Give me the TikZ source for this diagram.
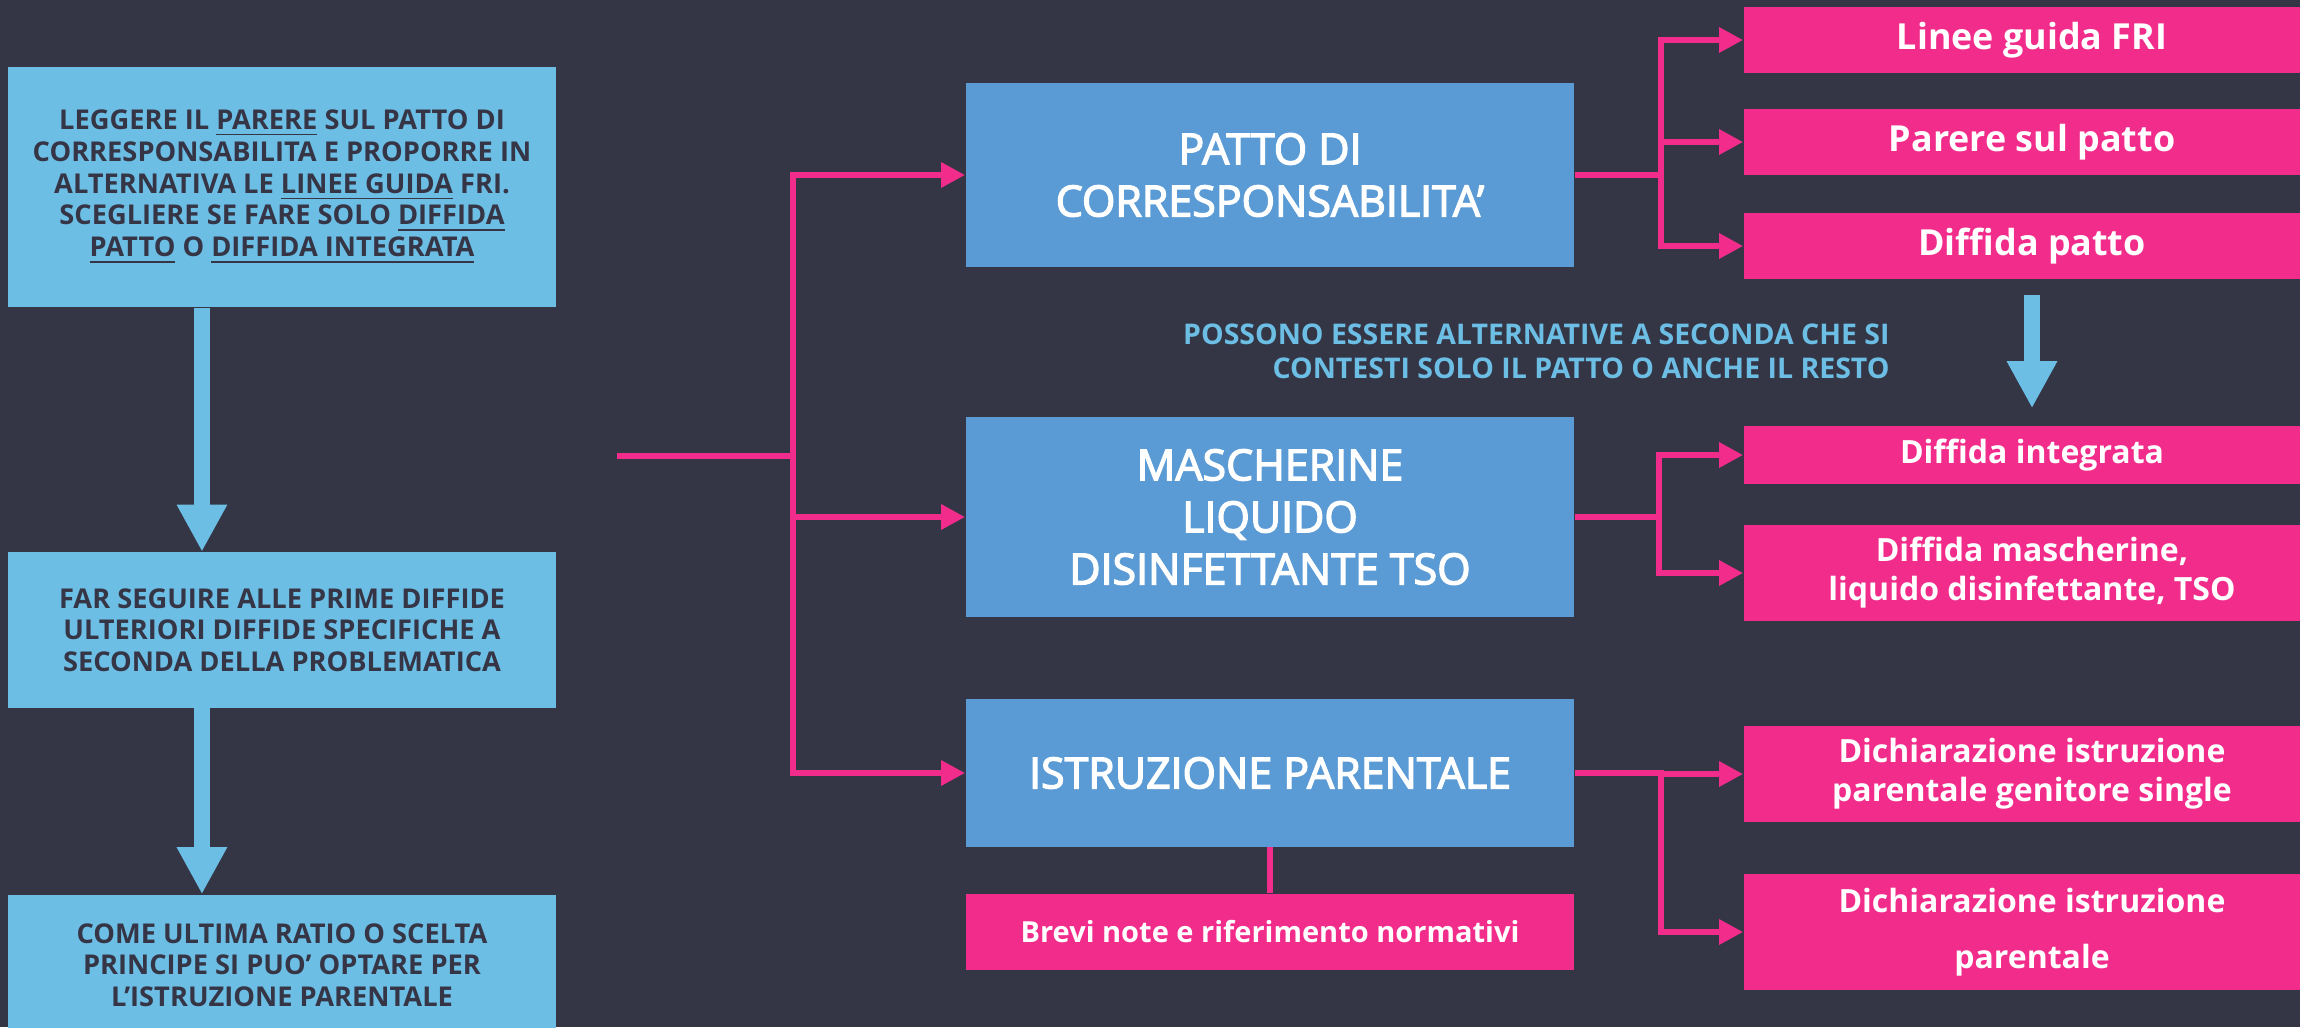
\documentclass[tikz,border=0pt]{standalone}
\usepackage{fontspec}
\setmainfont{Open Sans}
\usepackage{tikz}
\usetikzlibrary{arrows.meta, positioning, calc}
\definecolor{sfondo}{HTML}{343646}
\definecolor{celeste}{HTML}{6CBEE5}
\definecolor{azzurro}{HTML}{5B9BD5}
\definecolor{fucsia}{HTML}{F22C8A}
\definecolor{scuro}{HTML}{353546}
\newcommand{\fpx}[2]{\fontsize{#1pt}{#2pt}\selectfont}

\begin{document}
\begin{tikzpicture}[x=0.01cm,y=-0.01cm,
    leftbox/.style={rectangle,fill=celeste,text=scuro,minimum width=5.48cm,inner sep=0pt,align=center,font=\fpx{7.75}{9.02}\bfseries},
    midbox/.style={rectangle,fill=azzurro,text=white,minimum width=6.08cm,inner sep=0pt,align=center,font=\fpx{12.2}{14.8}\addfontfeature{FakeBold=3}},
    pinkbox/.style={rectangle,fill=fucsia,text=white,minimum width=5.76cm,inner sep=0pt,align=center,font=\fpx{10.2}{12.4}\bfseries},
    pinkline/.style={draw=fucsia,line width=1.7pt},
    pinkarrow/.style={pinkline,-{Triangle[length=6.8pt,width=6.8pt]}},
    bluearrow/.style={draw=celeste,line width=4.55pt,-{Triangle[length=13.4pt,width=13.4pt]}}]
    \useasboundingbox (0,0) rectangle (2300,1027);
    \fill[sfondo] (0,0) rectangle (2300,1027);

    % Colonna sinistra
    \node[leftbox,minimum height=2.4cm] (leggere) at (282,187) {LEGGERE IL \underline{PARERE} SUL PATTO DI\\CORRESPONSABILITA E PROPORRE IN\\ALTERNATIVA LE \underline{LINEE GUIDA} FRI.\\SCEGLIERE SE FARE SOLO \underline{DIFFIDA}\\\underline{PATTO} O \underline{DIFFIDA INTEGRATA}};
    \node[leftbox,minimum height=1.55cm] (seguire) at (282,630) {FAR SEGUIRE ALLE PRIME DIFFIDE\\ULTERIORI DIFFIDE SPECIFICHE A\\SECONDA DELLA PROBLEMATICA};
    \node[leftbox,minimum height=1.4cm] (ultima) at (282,965) {COME ULTIMA RATIO O SCELTA\\PRINCIPE SI PUO’ OPTARE PER\\L’ISTRUZIONE PARENTALE};

    \draw[bluearrow] ([xshift=-0.8cm]leggere.south) -- ([xshift=-0.8cm]seguire.north);
    \draw[bluearrow] ([xshift=-0.8cm]seguire.south) -- ([xshift=-0.8cm]ultima.north);

    % Colonna centrale
    \node[midbox,minimum height=1.84cm] (patto) at (1270,175) {PATTO DI\\CORRESPONSABILITA’};
    \node[midbox,minimum height=1.99cm] (masch) at (1270,517) {MASCHERINE\\LIQUIDO\\DISINFETTANTE TSO};
    \node[midbox,minimum height=1.47cm] (istr) at (1270,773) {ISTRUZIONE PARENTALE};
    \node[pinkbox,minimum width=6.08cm,minimum height=0.76cm,font=\fpx{8.25}{10}\bfseries] (brevi) at (1270,932) {Brevi note e riferimento normativi};
    \draw[pinkline] (istr.south) -- (brevi.north);

    \coordinate (avvio) at (617,456);
    \foreach \dest in {patto,masch,istr}
        \draw[pinkarrow] (avvio) -- ++(176,0) |- (\dest.west);

    \node[anchor=east,align=right,text=celeste,font=\fpx{8.1}{9.7}\bfseries] (nota) at (1902,351) {POSSONO ESSERE ALTERNATIVE A SECONDA CHE SI\\CONTESTI SOLO IL PATTO O ANCHE IL RESTO};

    % Colonna destra
    \node[pinkbox,minimum height=0.65cm] (fri) at (2032,40) {Linee guida FRI};
    \node[pinkbox,minimum height=0.65cm] (parere) at (2032,142) {Parere sul patto};
    \node[pinkbox,minimum height=0.65cm] (dpatto) at (2032,246) {Diffida patto};
    \node[pinkbox,minimum height=0.58cm,font=\fpx{9.1}{11.1}\bfseries] (dinteg) at (2032,455) {Diffida integrata};
    \node[pinkbox,minimum height=0.96cm,font=\fpx{9.1}{11.1}\bfseries] (dmasch) at (2032,573) {Diffida mascherine,\\liquido disinfettante, TSO};
    \node[pinkbox,minimum height=0.96cm,font=\fpx{9.1}{11.1}\bfseries] (single) at (2032,774) {Dichiarazione istruzione\\parentale genitore single};
    \node[pinkbox,minimum height=1.16cm,font=\fpx{9.1}{15.9}\bfseries] (dparent) at (2032,932) {Dichiarazione istruzione\\parentale};

    \draw[bluearrow,shorten <=0.16cm,shorten >=0.17cm] (dpatto.south) -- (dinteg.north);

    \foreach \dest in {fri,parere,dpatto}
        \draw[pinkarrow] (patto.east) -- ++(86,0) |- (\dest.west);
    \foreach \dest in {dinteg,dmasch}
        \draw[pinkarrow] (masch.east) -- ++(84,0) |- (\dest.west);
    \foreach \dest in {single,dparent}
        \draw[pinkarrow] (istr.east) -- ++(86,0) |- (\dest.west);
\end{tikzpicture}
\end{document}
